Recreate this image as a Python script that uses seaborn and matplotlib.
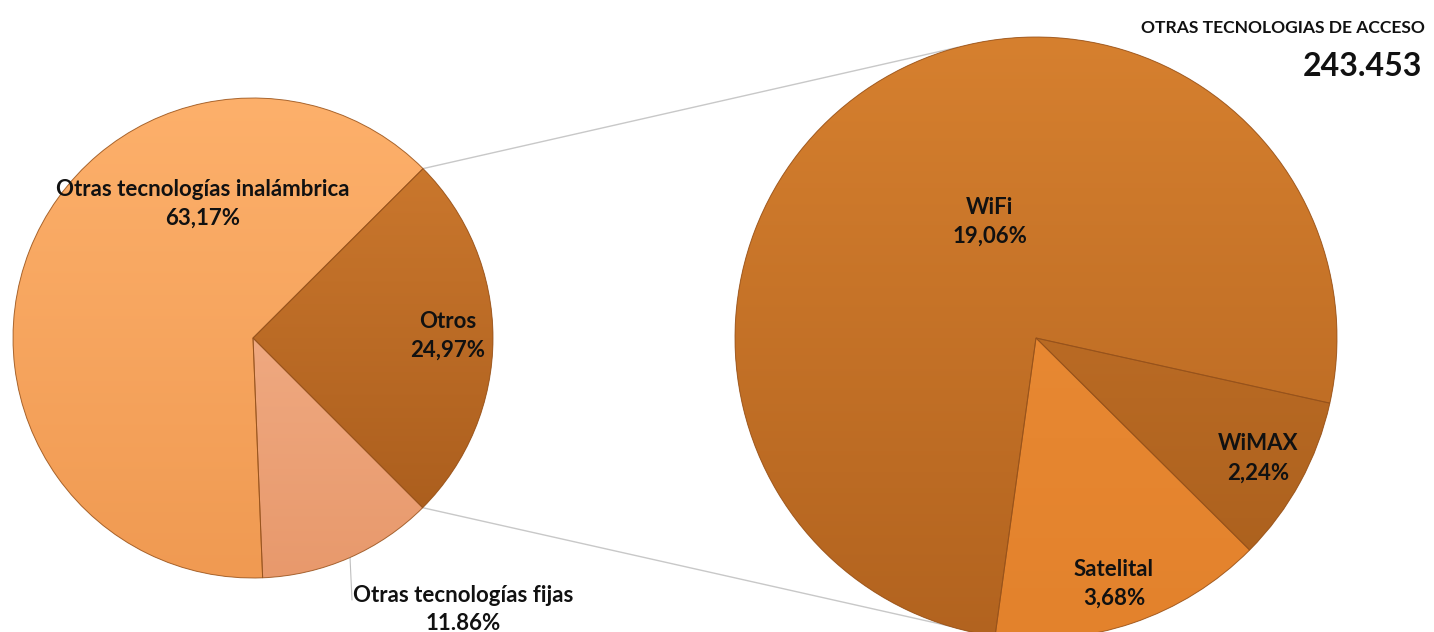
import numpy as np
import matplotlib
matplotlib.use("Agg")
import matplotlib.pyplot as plt
from matplotlib.colors import LinearSegmentedColormap
import seaborn as sns

# -------------------------------
# Data
# -------------------------------
main_labels = ["Otros", "Otras tecnologías inalámbrica", "Otras tecnologías fijas"]
main_values = [24.97, 63.17, 11.86]
main_pct_text = ["24,97%", "63,17%", "11.86%"]

sub_labels = ["WiFi", "Satelital", "WiMAX"]
sub_values = [19.06, 3.68, 2.24]
sub_pct_text = ["19,06%", "3,68%", "2,24%"]

total_title = "OTRAS TECNOLOGIAS DE ACCESO"
total_value = "243.453"

# -------------------------------
# Setup
# -------------------------------
sns.set_style("white")
plt.rcParams["font.family"] = ["Lato", "DejaVu Sans"]

W, H = 1434, 632
fig = plt.figure(figsize=(W / 100, H / 100), dpi=100)
ax = fig.add_axes([0, 0, 1, 1])
ax.axis("off")

main_center, main_r = (253, 294), 240
sub_center, sub_r = (1036, 294), 301

# gradient (top, bottom) for each slice
main_grad = [("#D07C30", "#A65A1B"), ("#FDB06B", "#F09A52"), ("#F6B894", "#E8996C")]
sub_grad = [("#D6802F", "#B2631F"), ("#EC8E38", "#E3822C"), ("#CB772C", "#A85E1C")]


def shade(wedges, grads, center, r):
    grad = np.linspace(0, 1, 256).reshape(-1, 1)
    for w, (top, bottom) in zip(wedges, grads):
        cmap = LinearSegmentedColormap.from_list("g", [bottom, top])
        w.set_facecolor(top)
        im = ax.imshow(grad, cmap=cmap, origin="lower", aspect="auto",
                       extent=[center[0] - r, center[0] + r, center[1] - r, center[1] + r],
                       zorder=2)
        im.set_clip_path(w)


edge_kw = dict(edgecolor="#94501A", linewidth=0.7, zorder=3, fill=False, alpha=0.8)

# -------------------------------
# Main pie
# -------------------------------
main_wedges, _ = ax.pie(main_values, startangle=-45, counterclock=True,
                        center=main_center, radius=main_r, wedgeprops=edge_kw)
main_fill, _ = ax.pie(main_values, startangle=-45, counterclock=True,
                      center=main_center, radius=main_r,
                      wedgeprops=dict(linewidth=0, zorder=1))
shade(main_fill, main_grad, main_center, main_r)

# -------------------------------
# Sub pie
# -------------------------------
sub_start = -12.5
sub_wedges, _ = ax.pie(sub_values, startangle=sub_start, counterclock=True,
                       center=sub_center, radius=sub_r, wedgeprops=edge_kw)
sub_fill, _ = ax.pie(sub_values, startangle=sub_start, counterclock=True,
                     center=sub_center, radius=sub_r,
                     wedgeprops=dict(linewidth=0, zorder=1))
shade(sub_fill, sub_grad, sub_center, sub_r)

# -------------------------------
# Connector lines
# -------------------------------
otros_a1 = main_wedges[0].theta1
otros_a2 = main_wedges[0].theta2
for a_main, a_sub in [(otros_a2, 105), (otros_a1, -98)]:
    x1 = main_center[0] + main_r * np.cos(np.radians(a_main))
    y1 = main_center[1] + main_r * np.sin(np.radians(a_main))
    x2 = sub_center[0] + sub_r * np.cos(np.radians(a_sub))
    y2 = sub_center[1] + sub_r * np.sin(np.radians(a_sub))
    ax.plot([x1, x2], [y1, y2], color="#C8C8C8", lw=1, zorder=0.5)

# leader line for "fijas"
ax.plot([350, 352], [H - 557, H - 600], color="#BFBFBF", lw=0.8)

# -------------------------------
# Labels
# -------------------------------
lab_kw = dict(ha="center", va="center", fontsize=16, fontweight="bold", color="#111111", zorder=5)
main_pos = [(448, 322), (203, 190), (463, 595)]
for (x, y), name, pct in zip(main_pos, main_labels, main_pct_text):
    ax.text(x, H - y, name, **lab_kw)
    ax.text(x, H - y - 28, pct, **lab_kw)

sub_pos = [(990, 207), (1114, 569), (1258, 444)]
for (x, y), name, pct in zip(sub_pos, sub_labels, sub_pct_text):
    ax.text(x, H - y, name, **lab_kw)
    ax.text(x, H - y - 29, pct, **lab_kw)

ax.text(1425, H - 28, total_title, ha="right", va="center", fontsize=12.6,
        fontweight="bold", color="#111111")
ax.text(1422, H - 66, total_value, ha="right", va="center", fontsize=23,
        fontweight="bold", color="#111111")

ax.set_xlim(0, W)
ax.set_ylim(0, H)
ax.set_aspect("equal")

plt.savefig("out.png", dpi=100)
plt.close()
